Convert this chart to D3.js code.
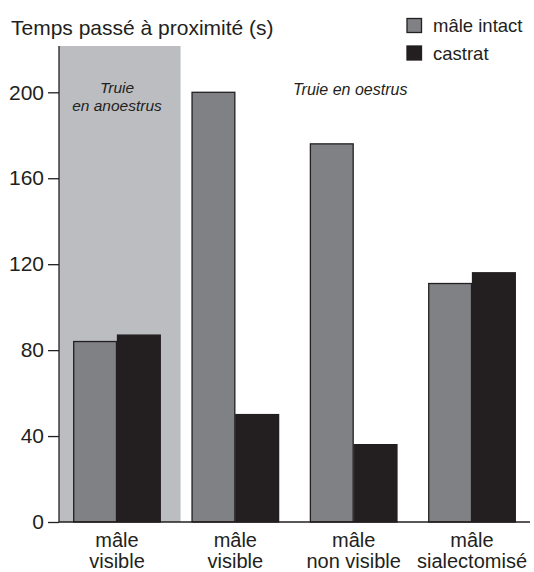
<!DOCTYPE html>
<html>
<head>
<meta charset="utf-8">
<script src="https://cdn.jsdelivr.net/npm/d3@7"></script>
<style>
  body { margin: 0; background: #fff; }
  svg { font-family: "Liberation Sans", Arial, sans-serif; }
</style>
</head>
<body>
<svg width="534" height="572"></svg>
<script>
// données
var categories = [["mâle", "visible"], ["mâle", "visible"], ["mâle", "non visible"], ["mâle", "sialectomisé"]];
var series = ["mâle intact", "castrat"];
var intact = [84, 200, 176, 111];
var castrat = [87, 50, 36, 116];
var yTicks = [0, 40, 80, 120, 160, 200];

var colors = ["#808184", "#231f20"];

var svg = d3.select("svg");
var mLeft = 59, mRight = 530, mBottom = 522, mTop = 46;

var x = d3.scaleBand()
    .domain(d3.range(categories.length))
    .range([mLeft, mRight])
    .paddingInner(0.26)
    .paddingOuter(0.12);

var x1 = d3.scaleBand()
    .domain(series)
    .range([0, x.bandwidth()]);

var y = d3.scaleLinear()
    .domain([0, 200])
    .range([mBottom, mBottom - 429.7]);

// zone truie en anoestrus
svg.append("rect")
    .attr("x", mLeft)
    .attr("y", mTop)
    .attr("width", x(1) - 11 - mLeft)
    .attr("height", mBottom - mTop)
    .attr("fill", "#bcbdc0");

var data = categories.map(function(c, i){
  return {i: i, values: [intact[i], castrat[i]]};
});

var groups = svg.selectAll("g.grp").data(data).join("g")
    .attr("class", "grp")
    .attr("transform", function(d){ return "translate(" + x(d.i) + ",0)"; });

groups.selectAll("rect").data(function(d){ return d.values.map(function(v, j){ return {s: series[j], v: v, j: j}; }); })
  .join("rect")
    .attr("x", function(d){ return x1(d.s) + 0.5; })
    .attr("y", function(d){ return y(d.v); })
    .attr("width", x1.bandwidth() - 1)
    .attr("height", function(d){ return mBottom - y(d.v); })
    .attr("fill", function(d){ return colors[d.j]; })
    .attr("stroke", "#231f20")
    .attr("stroke-width", 1.3);

// axe y
var yAxis = svg.append("g")
    .attr("transform", "translate(" + mLeft + ",0)")
    .call(d3.axisLeft(y).tickValues(yTicks).tickSize(11).tickPadding(4));
yAxis.select(".domain").remove();
yAxis.selectAll("line").attr("stroke", "#231f20").attr("stroke-width", 1.3);
yAxis.selectAll("text").attr("font-size", 21).attr("fill", "#231f20")
    .attr("font-family", "Liberation Sans, Arial, sans-serif");

svg.append("line")
    .attr("x1", mLeft).attr("x2", mLeft)
    .attr("y1", mTop).attr("y2", mBottom)
    .attr("stroke", "#231f20").attr("stroke-width", 1.3);
svg.append("line")
    .attr("x1", mLeft).attr("x2", mRight)
    .attr("y1", mBottom).attr("y2", mBottom)
    .attr("stroke", "#231f20").attr("stroke-width", 1.3);

// étiquettes x
var xl = svg.selectAll("text.xl").data(categories).join("text")
    .attr("class", "xl")
    .attr("text-anchor", "middle")
    .attr("font-size", 20)
    .attr("fill", "#231f20");
xl.append("tspan")
    .attr("x", function(d, i){ return x(i) + x.bandwidth() / 2; })
    .attr("y", 546.5)
    .text(function(d){ return d[0]; });
xl.append("tspan")
    .attr("x", function(d, i){ return x(i) + x.bandwidth() / 2; })
    .attr("y", 567.5)
    .text(function(d){ return d[1]; });

// titre
svg.append("text")
    .attr("x", 11).attr("y", 35)
    .attr("font-size", 21)
    .attr("fill", "#231f20")
    .text("Temps passé à proximité (s)");

// annotations
svg.append("text")
    .attr("x", 117).attr("y", 93)
    .attr("text-anchor", "middle")
    .attr("font-size", 15.5).attr("font-style", "italic")
    .attr("fill", "#231f20")
    .text("Truie");
svg.append("text")
    .attr("x", 117).attr("y", 110.5)
    .attr("text-anchor", "middle")
    .attr("font-size", 15.5).attr("font-style", "italic")
    .attr("fill", "#231f20")
    .text("en anoestrus");
svg.append("text")
    .attr("x", 293).attr("y", 95)
    .attr("font-size", 16).attr("font-style", "italic")
    .attr("fill", "#231f20")
    .text("Truie en oestrus");

// légende
var leg = svg.selectAll("g.leg").data(series).join("g")
    .attr("class", "leg")
    .attr("transform", function(d, i){ return "translate(407," + (18.5 + i * 27.5) + ")"; });
leg.append("rect")
    .attr("width", 14.5).attr("height", 14)
    .attr("fill", function(d, i){ return colors[i]; })
    .attr("stroke", "#231f20").attr("stroke-width", 1.3);
leg.append("text")
    .attr("x", 26).attr("y", 13.5)
    .attr("font-size", 18.5)
    .attr("fill", "#231f20")
    .text(function(d){ return d; });
</script>
</body>
</html>
